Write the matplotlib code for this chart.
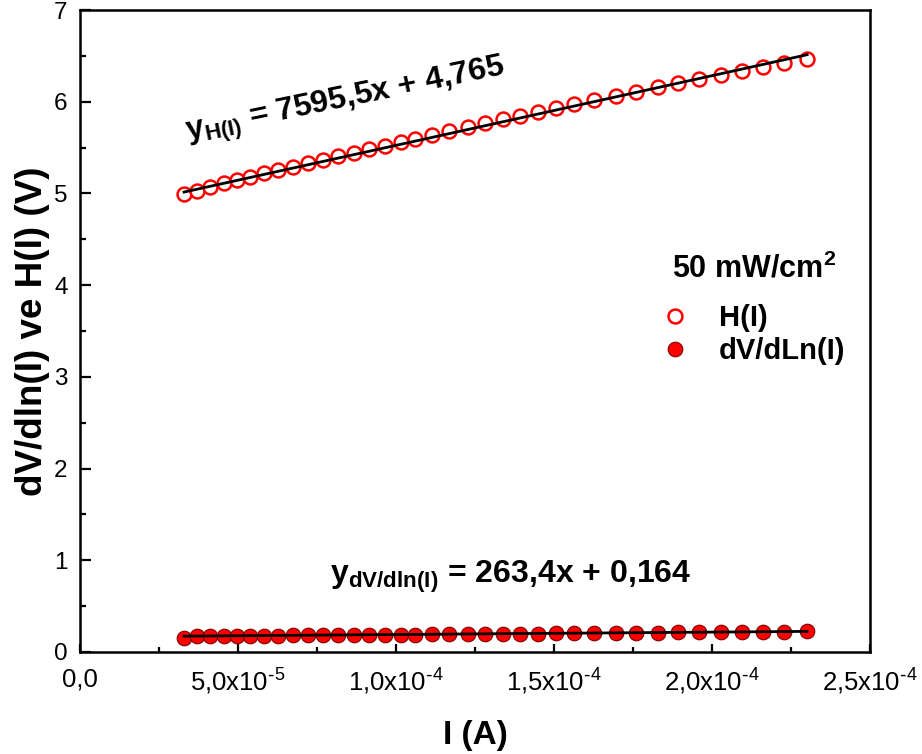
import numpy as np
import matplotlib
matplotlib.use("Agg")
import matplotlib.pyplot as plt
from matplotlib.ticker import MultipleLocator

plt.rcParams['font.family'] = ['Liberation Sans', 'DejaVu Sans']
plt.rcParams['mathtext.default'] = 'regular'

# current (A)
current = [3.29e-5, 3.70e-5, 4.11e-5, 4.56e-5, 4.97e-5, 5.38e-5, 5.82e-5, 6.27e-5,
           6.74e-5, 7.22e-5, 7.69e-5, 8.16e-5, 8.67e-5, 9.15e-5, 9.65e-5, 1.016e-4,
           1.060e-4, 1.114e-4, 1.168e-4, 1.228e-4, 1.282e-4, 1.339e-4, 1.392e-4,
           1.449e-4, 1.506e-4, 1.563e-4, 1.627e-4, 1.696e-4, 1.759e-4, 1.829e-4,
           1.892e-4, 1.959e-4, 2.028e-4, 2.095e-4, 2.161e-4, 2.228e-4, 2.301e-4]

h_values = [4.995, 5.032, 5.070, 5.110, 5.146, 5.182, 5.218, 5.254, 5.292, 5.330,
            5.368, 5.406, 5.446, 5.483, 5.522, 5.562, 5.596, 5.638, 5.680, 5.726,
            5.767, 5.809, 5.848, 5.891, 5.932, 5.973, 6.019, 6.067, 6.111, 6.159,
            6.202, 6.247, 6.293, 6.337, 6.381, 6.425, 6.468]

dv_values = [0.150, 0.170, 0.172, 0.174, 0.175, 0.176, 0.177, 0.179, 0.180, 0.181,
             0.182, 0.184, 0.185, 0.186, 0.188, 0.189, 0.190, 0.192, 0.193, 0.195,
             0.196, 0.198, 0.199, 0.201, 0.202, 0.204, 0.206, 0.207, 0.209, 0.211,
             0.213, 0.214, 0.216, 0.218, 0.220, 0.222, 0.225]

# linear fits (slope, intercept) as printed on the chart
fit_h = (7595.5, 4.765)
fit_dv = (263.4, 0.164)

x_ticks = [0, 5e-5, 1e-4, 1.5e-4, 2e-4, 2.5e-4]
x_tick_labels = ['0,0', r'5,0x10$^{\text{-}5}$', r'1,0x10$^{\text{-}4}$',
                 r'1,5x10$^{\text{-}4}$', r'2,0x10$^{\text{-}4}$', r'2,5x10$^{\text{-}4}$']
y_ticks = [0, 1, 2, 3, 4, 5, 6, 7]

fig = plt.figure(figsize=(9.22, 7.54), dpi=100)
ax = fig.add_axes([0.0868, 0.1353, 0.8568, 0.8514])

ax.plot(current, h_values, 'o', markersize=10, markerfacecolor='white',
        markeredgecolor='#ff0000', markeredgewidth=1.8, label='H(I)', zorder=3)
ax.plot(current, dv_values, 'o', markersize=10.5, markerfacecolor='#ff0000',
        markeredgecolor='#7a0000', markeredgewidth=0.8, label='dV/dLn(I)', zorder=3)

xs = np.array([current[0], current[-1]])
ax.plot(xs, fit_h[0] * xs + fit_h[1], color='black', linewidth=2, zorder=4)
ax.plot(xs, fit_dv[0] * xs + fit_dv[1], color='black', linewidth=2, zorder=4)

ax.set_xlim(0, 2.5e-4)
ax.set_ylim(0, 7)
ax.set_xticks(x_ticks)
ax.set_xticklabels(x_tick_labels)
ax.set_yticks(y_ticks)
ax.xaxis.set_minor_locator(MultipleLocator(2.5e-5))
ax.yaxis.set_minor_locator(MultipleLocator(0.5))
ax.tick_params(which='both', direction='in', top=False, right=False, width=1.6)
ax.tick_params(axis='x', which='major', length=6, labelsize=18.5, pad=11)
ax.tick_params(axis='x', which='minor', length=3.5)
ax.tick_params(axis='y', which='major', length=8, labelsize=17.5, pad=9)
ax.tick_params(axis='y', which='minor', length=4.5)
for s in ax.spines.values():
    s.set_linewidth(1.8)

ax.set_xlabel('I (A)', fontsize=24, fontweight='bold', labelpad=16)
ax.set_ylabel('dV/dln(I) ve H(I) (V)', fontsize=26.5, fontweight='bold', labelpad=3)

ax.text(3.4e-5, 5.58, '$y_{H(I)}$ = 7595,5x + 4,765', fontsize=23, fontweight='bold',
        rotation=11.6, rotation_mode='anchor', ha='left', va='baseline')
ax.text(7.91e-5, 0.752, '$y_{dV/dln(I)}$ = 263,4x + 0,164', fontsize=23,
        fontweight='bold', ha='left', va='baseline')

ax.text(0.749, 0.584, '50 mW/cm$^2$', transform=ax.transAxes, fontsize=22,
        fontweight='bold', ha='left', va='baseline')
leg = ax.legend(loc='center left', bbox_to_anchor=(0.742, 0.4945), frameon=False,
                fontsize=21, handlelength=0.6, handletextpad=1.2, borderpad=0,
                labelspacing=0.15, borderaxespad=0)
for t in leg.get_texts():
    t.set_fontweight('bold')

fig.savefig('out.png', dpi=100)
